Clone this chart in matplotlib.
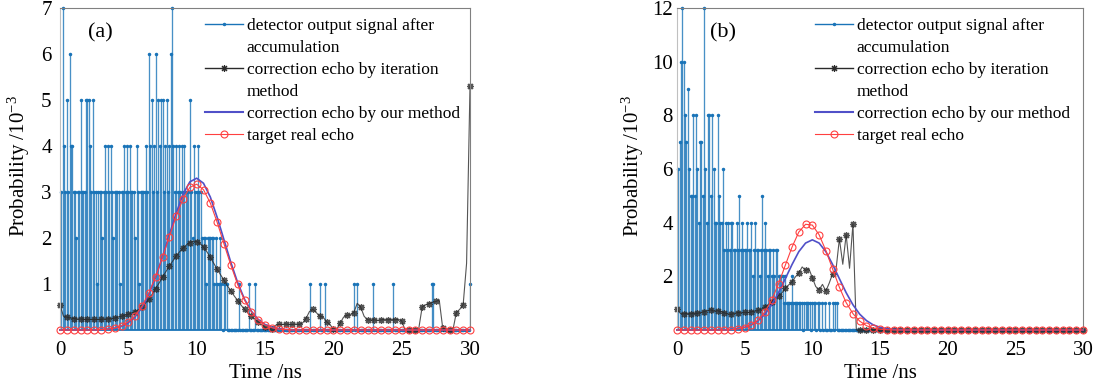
import numpy as np
import matplotlib.pyplot as plt
from matplotlib.lines import Line2D

plt.rcParams['font.family'] = ['Liberation Serif', 'DejaVu Serif']
plt.rcParams['mathtext.fontset'] = 'custom'
plt.rcParams['mathtext.rm'] = 'Liberation Serif'
plt.rcParams['mathtext.it'] = 'Liberation Serif:italic'

# detector output signal after accumulation (10^-3), one value per 0.1 ns from 0.1 ns
signal_a = [
    3, 7, 4, 3, 5, 3, 6, 4, 4, 3,
    3, 2, 3, 3, 5, 3, 3, 3, 5, 5,
    5, 4, 3, 5, 3, 3, 1, 3, 3, 3,
    2, 3, 4, 3, 4, 3, 4, 3, 2, 3,
    3, 3, 3, 1, 3, 3, 4, 3, 4, 3,
    4, 3, 3, 3, 2, 4, 3, 1, 3, 3,
    3, 3, 4, 3, 6, 4, 5, 3, 4, 6,
    3, 5, 4, 5, 5, 3, 4, 5, 3, 4,
    6, 7, 4, 3, 4, 3, 4, 3, 4, 3,
    4, 3, 3, 3, 5, 3, 2, 4, 3, 3,
    4, 3, 3, 2, 2, 2, 1, 2, 2, 2,
    2, 2, 1, 2, 1, 1, 2, 1, 0, 1,
    1, 1, 0, 0, 0, 0, 0, 0, 0, 0,
    1, 0, 0, 0, 0, 0, 0, 1, 0, 0,
    0, 0, 1, 0, 0, 0, 0, 0, 0, 0,
    0, 0, 0, 0, 0, 0, 0, 0, 0, 0,
    0, 0, 0, 0, 0, 0, 0, 0, 0, 0,
    0, 0, 0, 0, 0, 0, 0, 0, 0, 0,
    0, 0, 1, 0, 0, 0, 0, 0, 0, 1,
    0, 0, 0, 1, 0, 0, 0, 0, 0, 0,
    0, 0, 0, 0, 0, 0, 0, 0, 0, 0,
    0, 0, 0, 0, 1, 0, 1, 0, 0, 0,
    0, 0, 0, 0, 0, 0, 0, 0, 1, 0,
    0, 0, 0, 0, 0, 0, 0, 0, 0, 0,
    0, 0, 0, 1, 0, 0, 0, 0, 0, 0,
    0, 0, 0, 0, 0, 0, 0, 0, 0, 0,
    0, 0, 0, 0, 0, 0, 0, 0, 0, 0,
    0, 1, 1, 0, 0, 0, 0, 0, 0, 0,
    0, 0, 0, 0, 0, 0, 0, 0, 0, 0,
    0, 0, 0, 0, 0, 0, 0, 0, 0, 1,
]
signal_b = [
    6, 7, 10, 12, 10, 8, 7, 9, 6, 5,
    5, 8, 5, 8, 6, 4, 7, 7, 5, 12,
    6, 4, 8, 8, 5, 8, 6, 4, 4, 8,
    5, 4, 4, 6, 3, 4, 3, 4, 3, 4,
    4, 3, 3, 4, 3, 5, 3, 4, 3, 3,
    3, 4, 3, 3, 4, 2, 3, 4, 3, 3,
    2, 3, 5, 3, 4, 3, 2, 3, 3, 2,
    3, 2, 3, 3, 2, 2, 2, 2, 1, 2,
    1, 1, 1, 1, 2, 1, 1, 1, 1, 1,
    1, 1, 0, 1, 1, 1, 1, 1, 0, 1,
    1, 1, 0, 1, 1, 0, 1, 0, 1, 0,
    0, 1, 0, 0, 1, 0, 1, 1, 0, 0,
] + [0] * 180

# correction echo by iteration method, one value per 0.25 ns from 0 ns
iter_a = [
    0.55, 0.30, 0.28, 0.26, 0.25, 0.24, 0.24, 0.23, 0.23, 0.23,
    0.23, 0.23, 0.23, 0.24, 0.24, 0.25, 0.26, 0.28, 0.30, 0.32,
    0.34, 0.37, 0.40, 0.44, 0.50, 0.58, 0.67, 0.78, 0.90, 1.02,
    1.15, 1.27, 1.39, 1.50, 1.61, 1.70, 1.78, 1.85, 1.90, 1.93,
    1.92, 1.88, 1.80, 1.70, 1.58, 1.45, 1.32, 1.20, 1.08, 0.96,
    0.85, 0.74, 0.64, 0.54, 0.45, 0.37, 0.30, 0.24, 0.18, 0.12,
    0.06, 0.02, 0.03, 0.10, 0.12, 0.12, 0.13, 0.12, 0.12, 0.13,
    0.12, 0.15, 0.25, 0.40, 0.45, 0.38, 0.30, 0.28, 0.18, 0.12,
    0.02, 0.02, 0.15, 0.28, 0.32, 0.33, 0.38, 0.58, 0.50, 0.30,
    0.22, 0.22, 0.22, 0.21, 0.22, 0.23, 0.22, 0.23, 0.22, 0.23,
    0.20, 0.00, 0.00, 0.00, 0.00, 0.03, 0.50, 0.55, 0.57, 0.60,
    0.62, 0.65, 0.05, 0.00, 0.00, 0.00, 0.38, 0.45, 0.55, 1.45,
    5.30,
]
iter_b = [
    0.77, 0.62, 0.60, 0.62, 0.60, 0.63, 0.62, 0.65, 0.68, 0.72,
    0.75, 0.70, 0.72, 0.68, 0.64, 0.60, 0.58, 0.62, 0.65, 0.64,
    0.66, 0.65, 0.68, 0.70, 0.73, 0.78, 0.85, 0.95, 1.05, 1.18,
    1.28, 1.38, 1.55, 1.68, 1.80, 1.98, 2.12, 2.35, 2.22, 2.28,
    1.95, 1.62, 1.50, 1.70, 1.45, 1.75, 2.10, 2.25, 3.40, 2.45,
    3.55, 2.30, 3.95, 0.00, 0.00, 0.00, 0.00, 0.00, 0.00, 0.00,
] + [0.0] * 61

# correction echo by our method and target real echo, one value per 0.5 ns from 0 ns
ours_a = [
    0, 0, 0, 0, 0, 0, 0.01, 0.02, 0.04, 0.08,
    0.16, 0.29, 0.49, 0.78, 1.15, 1.59, 2.07, 2.54, 2.95, 3.22,
    3.30, 3.19, 2.89, 2.45, 1.96, 1.47, 1.03, 0.67, 0.41, 0.23,
    0.12, 0.06, 0.03, 0.01,
] + [0] * 27
real_a = [
    0, 0, 0, 0, 0, 0, 0.01, 0.02, 0.04, 0.09,
    0.18, 0.31, 0.52, 0.80, 1.16, 1.58, 2.03, 2.47, 2.85, 3.10,
    3.17, 3.05, 2.76, 2.34, 1.87, 1.41, 0.99, 0.65, 0.40, 0.22,
    0.11, 0.05, 0.02, 0.01,
] + [0] * 27
ours_b = [
    0, 0, 0, 0, 0, 0, 0, 0.01, 0.02, 0.05,
    0.10, 0.19, 0.35, 0.59, 0.94, 1.39, 1.91, 2.44, 2.92, 3.24,
    3.36, 3.24, 2.92, 2.44, 1.91, 1.39, 0.94, 0.59, 0.35, 0.19,
    0.10, 0.05, 0.02, 0.01,
] + [0] * 27
real_b = [
    0, 0, 0, 0, 0, 0, 0, 0, 0.01, 0.04,
    0.09, 0.19, 0.37, 0.68, 1.12, 1.72, 2.41, 3.09, 3.65, 3.94,
    3.91, 3.55, 2.96, 2.27, 1.59, 1.02, 0.61, 0.33, 0.16, 0.07,
    0.03, 0.01,
] + [0] * 29

labels = ['detector output signal after', 'accumulation',
          'correction echo by iteration', 'method',
          'correction echo by our method', 'target real echo']

stem_color = '#1a74b8'
iter_color = '#2a2a2a'
ours_color = '#5050c8'
real_color = '#ff4040'
asterisk = (8, 2, 0)


def draw_panel(ax, signal, iterate, ours, real, ymax, yticks, tag, leg_x, tag_x, ypad, ylab_x):
    t_sig = np.arange(1, len(signal) + 1) * 0.1
    t_it = np.arange(len(iterate)) * 0.25
    t_cur = np.arange(len(real)) * 0.5

    ax.vlines(t_sig, 0, signal, colors=stem_color, lw=0.95, alpha=0.8, zorder=1)
    ax.plot(t_sig, signal, '.', color=stem_color, ms=3, zorder=1, clip_on=False)
    ax.axhline(0, color=stem_color, lw=1.3, zorder=1, clip_on=False)

    ax.plot(t_it, iterate, '-', color=iter_color, lw=0.8, alpha=0.8,
            marker=asterisk, ms=5, mew=0.9, markevery=2, zorder=2, clip_on=False)
    ax.plot(t_cur, ours, '-', color=ours_color, lw=1.2, zorder=3, clip_on=False)
    ax.plot(t_cur, real, '-', color=real_color, lw=0.8, marker='o', ms=5,
            mfc='none', mew=0.8, zorder=4, clip_on=False)

    ax.set_xlim(0, 30)
    ax.set_ylim(0, ymax)
    ax.set_xticks([0, 5, 10, 15, 20, 25, 30])
    ax.set_yticks(yticks)
    ax.tick_params(length=0, labelsize=15)
    ax.tick_params(axis='x', pad=8)
    ax.tick_params(axis='y', pad=ypad)
    for side in ['top', 'right']:
        ax.spines[side].set_color('#808080')
    ax.spines['left'].set_color('#c0c0c0')
    ax.spines['bottom'].set_visible(False)

    ax.set_xlabel('Time /ns', fontsize=15)
    ax.xaxis.set_label_coords(0.5, -0.105)
    ax.set_ylabel('Probability /10$^{-3}$', fontsize=15)
    ax.yaxis.set_label_coords(ylab_x, 0.51)

    ax.text(tag_x, 0.922, tag, transform=ax.transAxes, fontsize=16,
            ha='center', va='center')

    handles = [
        Line2D([], [], color=stem_color, lw=1.0, marker='.', ms=3),
        Line2D([], [], linestyle='none'),
        Line2D([], [], color=iter_color, lw=1.0, marker=asterisk, ms=5, mew=0.8),
        Line2D([], [], linestyle='none'),
        Line2D([], [], color=ours_color, lw=1.5),
        Line2D([], [], color=real_color, lw=0.8, marker='o', ms=5, mfc='none', mew=0.8),
    ]
    ax.legend(handles, labels, loc='upper left', bbox_to_anchor=(leg_x, 0.968),
              frameon=False, borderpad=0, borderaxespad=0, handlelength=2.2,
              handletextpad=0.2, labelspacing=0.33, fontsize=12.5, numpoints=1)


fig = plt.figure(figsize=(11.02, 3.84), dpi=100)
ax1 = fig.add_axes([60 / 1102, 54 / 384, 410 / 1102, 322 / 384])
ax2 = fig.add_axes([677 / 1102, 54 / 384, 406 / 1102, 322 / 384])

draw_panel(ax1, signal_a, iter_a, ours_a, real_a, 7, [1, 2, 3, 4, 5, 6, 7], '(a)',
           0.354, 0.098, 6, -0.068)
draw_panel(ax2, signal_b, iter_b, ours_b, real_b, 12, [2, 4, 6, 8, 10, 12], '(b)',
           0.34, 0.113, 3, -0.076)

fig.savefig('out.png', dpi=100)
